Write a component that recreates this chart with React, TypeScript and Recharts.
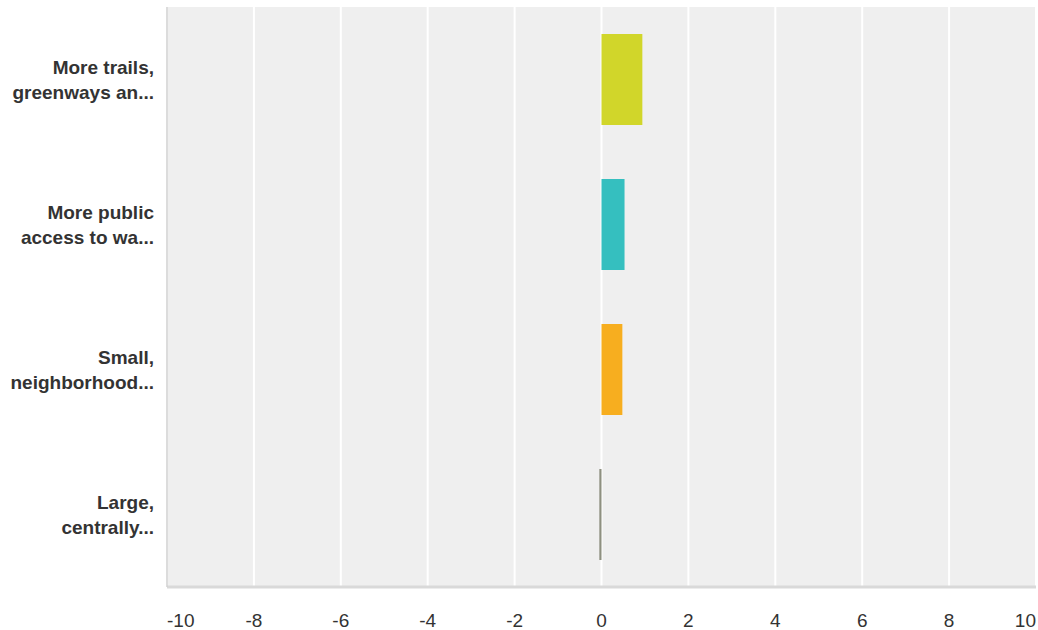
import React from "react";
import { BarChart, Bar, XAxis, YAxis, CartesianGrid, Cell } from "recharts";

const categories = [
  "More trails, greenways and...",
  "More public access to water...",
  "Small, neighborhood parks...",
  "Large, centrally located parks...",
];
const labelLines: string[][] = [
  ["More trails,", "greenways an..."],
  ["More public", "access to wa..."],
  ["Small,", "neighborhood..."],
  ["Large,", "centrally..."],
];
const values = [0.94, 0.53, 0.48, -0.05];
const colors = ["#d1d62a", "#35bfbf", "#f7ae1f", "#8e9080"];
const xTicks = [-10, -8, -6, -4, -2, 0, 2, 4, 6, 8, 10];

const data = categories.map((c, i) => ({ name: c, idx: i, value: values[i] }));

const FONT = '"Liberation Sans", Arial, Helvetica, sans-serif';

const YTick = (props: any) => {
  const { x, y, index } = props;
  const lines = labelLines[index] || [];
  return (
    <g>
      {lines.map((l, i) => (
        <text
          key={i}
          x={x}
          y={y}
          dy={i === 0 ? -6 : 19}
          textAnchor="end"
          fontFamily={FONT}
          fontSize={19}
          fontWeight="bold"
          fill="#333333"
        >
          {l}
        </text>
      ))}
    </g>
  );
};

const XTick = (props: any) => {
  const { x, y, payload, index } = props;
  const anchor = index === 0 ? "start" : index === xTicks.length - 1 ? "end" : "middle";
  return (
    <text
      x={x}
      y={y}
      dy={40}
      textAnchor={anchor}
      fontFamily={FONT}
      fontSize={19}
      fill="#333333"
    >
      {payload.value}
    </text>
  );
};

export default function App() {
  return (
    <div style={{ position: "absolute", left: 0, top: 0 }}>
      <BarChart
        width={1038}
        height={630}
        data={data}
        layout="vertical"
        margin={{ top: 7, right: 2, bottom: 0, left: 0 }}
      >
        <CartesianGrid
          horizontal={false}
          vertical={true}
          stroke="#ffffff"
          strokeWidth={2}
          fill="#efefef"
          fillOpacity={1}
        />
        <XAxis
          type="number"
          domain={[-10, 10]}
          ticks={xTicks}
          interval={0}
          height={43}
          tickLine={false}
          tickSize={0}
          tickMargin={0}
          axisLine={{ stroke: "#d9d9d9", strokeWidth: 3 }}
          tick={<XTick />}
        />
        <YAxis
          type="category"
          dataKey="name"
          width={167}
          tickLine={false}
          tickSize={0}
          tickMargin={13}
          axisLine={{ stroke: "#d0d0d0", strokeWidth: 1.5 }}
          tick={<YTick />}
          interval={0}
        />
        <Bar dataKey="value" barSize={91} isAnimationActive={false}>
          {data.map((d, i) => (
            <Cell key={i} fill={colors[i]} />
          ))}
        </Bar>
      </BarChart>
    </div>
  );
}
